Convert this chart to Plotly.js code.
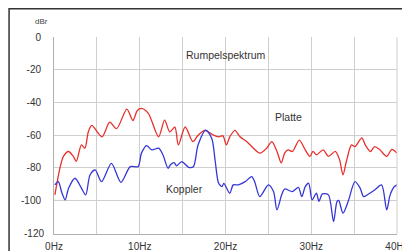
<!DOCTYPE html>
<html>
<head>
<meta charset="utf-8">
<script src="https://cdn.plot.ly/plotly-3.0.1.min.js"></script>
<style>
html,body{margin:0;padding:0;background:#fff;}
#chart{width:402px;height:251px;}
</style>
</head>
<body>
<div id="chart"></div>
<script>
// Frequency (Hz) and level (dBr)
const platteFreq = [0.1,0.7,1.1,1.7,2.25,2.6,3.2,3.6,4.0,4.4,5.6,6.5,7.3,8.5,9.2,9.7,10.2,11,12.2,12.9,13.5,14.1,14.5,15.3,16.2,16.8,17.6,18.6,19.2,19.7,20.1,20.5,21.1,21.7,22.5,24.0,24.8,25.4,26,26.5,26.9,27.3,27.8,28.6,29.3,29.85,30.2,30.6,31.4,32,32.8,33.3,33.7,34.1,34.7,35.1,35.9,36.3,36.9,37.4,38,38.8,39.4,40];
const platteLevel = [-96.6,-80,-73,-70,-73,-76,-66,-68,-58,-54,-61,-52,-56,-44,-51,-45,-43.6,-46.6,-61,-50.8,-58,-55,-66,-55,-64,-60,-57,-60,-61,-60.4,-66,-61,-57,-61,-64,-71,-68,-64,-70,-77,-71,-69,-70,-63,-69,-73,-70,-72,-69,-73,-70,-75,-84.4,-76,-66,-67,-61.6,-66,-70,-67,-69,-73,-68.7,-71];

const kopplerFreq = [0.1,0.5,0.9,1.3,1.7,2.45,3.2,3.7,4.2,4.8,5.55,6.7,7.8,8.9,9.8,10.2,10.8,11.4,12.2,12.7,13.3,13.6,14.0,14.3,14.9,15.7,16.25,16.8,17.7,18.4,18.8,19.2,19.6,19.8,20.5,20.9,21.5,22.3,23.05,23.4,24.0,25.0,25.6,26.0,26.55,26.9,27.8,28.5,28.9,29.3,29.7,30.1,30.6,30.9,31.3,32,32.6,33.0,33.2,33.7,34.3,35.1,35.7,36.1,36.6,37.4,38.2,38.8,39.2,39.7,40];
const kopplerLevel = [-90.5,-88.5,-95,-99.7,-92.5,-86.4,-92.5,-96.6,-84.4,-81.3,-88.5,-77.3,-88.9,-79.3,-79.3,-71,-66.4,-69,-68,-72,-80.3,-78,-76.8,-78.8,-76.2,-79.7,-79.3,-66,-56.9,-62,-76,-89.5,-91.5,-89.5,-95.6,-90.5,-90.5,-88.5,-85.4,-88.5,-97.7,-90.5,-94.6,-105.8,-96.6,-93,-94.6,-92,-97.7,-91.5,-89.5,-99.7,-95.6,-100.6,-96,-96.6,-113,-100.7,-100,-107.8,-100.7,-88.5,-92.5,-97.7,-96.4,-93.6,-90.5,-105.8,-96.6,-91.5,-90.5];

const xTickVals = [0,5,10,15,20,25,30,35,40];
const xTickText = ['0Hz','','10Hz','','20Hz','','30Hz','','40Hz'];
const yTickVals = [0,-20,-40,-60,-80,-100,-120];
const yTickText = ['0','-20','-40','-60','-80','-100','-120'];

const labels = ['Rumpelspektrum','Platte','Koppler','dBr'];

const font = 'Arial, "Liberation Sans", sans-serif';

const traces = [
  {x: platteFreq, y: platteLevel, mode:'lines', line:{color:'#e8302c', width:1.3, shape:'spline', smoothing:0.8}},
  {x: kopplerFreq, y: kopplerLevel, mode:'lines', line:{color:'#3437d6', width:1.3, shape:'spline', smoothing:0.8}}
];

// the bottom y label is placed as an annotation so it cannot be auto-hidden
const lastIdx = yTickVals.length - 1;
const yAxisText = yTickText.map(function(t, i){ return i === lastIdx ? '' : t; });

const layout = {
  width:402, height:251,
  margin:{l:54, r:5, t:37, b:17, pad:0, autoexpand:false},
  showlegend:false,
  font:{family:font, size:10, color:'#333'},
  xaxis:{range:[0,40], tickvals:xTickVals, ticktext:xTickText, showgrid:true, gridcolor:'#cfcfcf',
         zeroline:false, showline:true, linecolor:'#b0b0b0', linewidth:1, ticks:'', ticklabelstandoff:3,
         ticklabeloverflow:'allow', automargin:false, tickfont:{family:font, size:10, color:'#333'}},
  yaxis:{range:[-120.6,0.2], tickvals:yTickVals, ticktext:yAxisText, showgrid:true, gridcolor:'#cfcfcf',
         zeroline:false, showline:true, linecolor:'#b0b0b0', linewidth:1, ticks:'', ticklabelstandoff:10,
         ticklabeloverflow:'allow', automargin:false, tickfont:{family:font, size:10, color:'#333'}},
  annotations:[
    {x:20.06, y:-11, xref:'x', yref:'y', text:labels[0], showarrow:false, font:{family:font, size:10.5, color:'#333'}},
    {x:27.4, y:-49, xref:'x', yref:'y', text:labels[1], showarrow:false, font:{family:font, size:10.5, color:'#333'}},
    {x:15.2, y:-93, xref:'x', yref:'y', text:labels[2], showarrow:false, font:{family:font, size:10.5, color:'#333'}},
    {x:-0.012, y:1.077, xref:'paper', yref:'paper', text:labels[3], showarrow:false, xanchor:'right', yanchor:'middle', font:{family:font, size:8, color:'#444'}},
    {x:-0.024, y:yTickVals[lastIdx], xref:'paper', yref:'y', text:yTickText[lastIdx], showarrow:false, xanchor:'right', yanchor:'middle', font:{family:font, size:10, color:'#333'}}
  ],
  shapes:[
    {type:'rect', xref:'paper', yref:'paper', x0:-0.131, x1:1.1, y0:-0.2, y1:1.143, line:{color:'#333', width:1.5}, fillcolor:'rgba(0,0,0,0)', layer:'above'},
    {type:'line', xref:'paper', yref:'paper', x0:1.0, x1:1.0, y0:0, y1:1.0, line:{color:'#cfcfcf', width:1}}
  ]
};

Plotly.newPlot('chart', traces, layout, {staticPlot:true});
</script>
</body>
</html>
